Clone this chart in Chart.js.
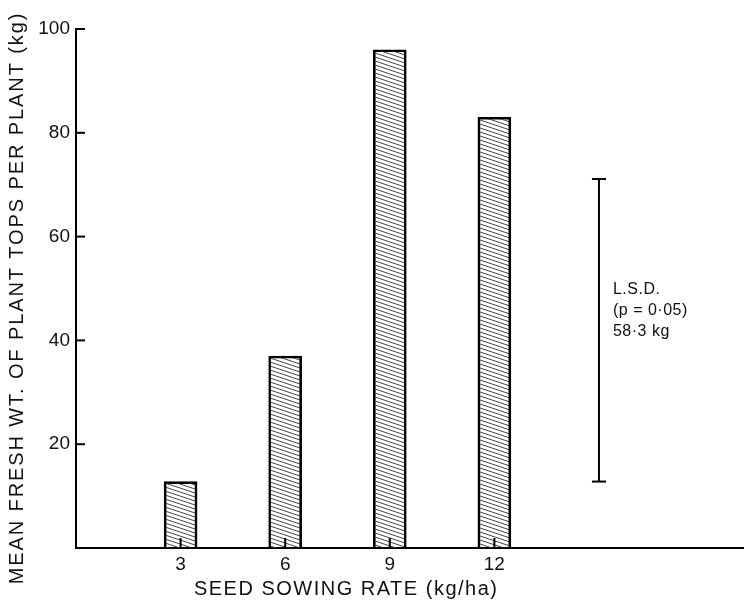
<!DOCTYPE html>
<html>
<head>
<meta charset="utf-8">
<script src="https://cdn.jsdelivr.net/npm/chart.js@4"></script>
<style>
  html, body { margin: 0; padding: 0; background: #fff; }
  #wrap { width: 744px; height: 600px; }
</style>
</head>
<body>
<div id="wrap"><canvas id="chart" width="744" height="600"></canvas></div>
<script>
// seed sowing rate (kg/ha) and mean fresh weight (kg)
const sowingRates = [3, 6, 9, 12];
const freshWeights = [12.8, 37, 96, 83];
const yTicks = [20, 40, 60, 80, 100];

// least significant difference bar
const lsdX = 15;
const lsdRange = [12.8, 71.1];
const lsdLines = ['L.S.D.', '(p = 0\u00b705)', '58\u00b73 kg'];

const xTitle = 'SEED SOWING RATE (kg/ha)';
const yTitle = 'MEAN FRESH WT. OF PLANT TOPS PER PLANT (kg)';

const FONT = '"Liberation Sans", Arial, Helvetica, sans-serif';

// diagonal hatch for the bars
function makeHatch() {
    const c = document.createElement('canvas');
    c.width = 12; c.height = 4;
    const g = c.getContext('2d');
    g.strokeStyle = '#333';
    g.lineWidth = 0.9;
    [-4, 0, 4].forEach(off => {
        g.beginPath();
        g.moveTo(0, off);
        g.lineTo(12, off + 4);
        g.stroke();
    });
    return g.createPattern(c, 'repeat');
}

// inward ticks, titles and LSD label
const extras = {
    id: 'extras',
    afterDatasetsDraw(chart) {
        const { ctx, scales: { x, y } } = chart;
        ctx.save();
        ctx.strokeStyle = '#000';
        ctx.lineWidth = 2;
        // y ticks pointing into the plot
        yTicks.forEach(v => {
            const py = y.getPixelForValue(v);
            ctx.beginPath();
            ctx.moveTo(x.left, py);
            ctx.lineTo(x.left + 9, py);
            ctx.stroke();
        });
        // x ticks pointing up inside the bars
        sowingRates.forEach(v => {
            const px = x.getPixelForValue(v);
            ctx.beginPath();
            ctx.moveTo(px, y.bottom);
            ctx.lineTo(px, y.bottom - 10);
            ctx.stroke();
        });

        // LSD text
        ctx.fillStyle = '#111';
        ctx.font = '16px ' + FONT;
        ctx.letterSpacing = '0.5px';
        ctx.textAlign = 'left';
        ctx.textBaseline = 'middle';
        const tx = x.getPixelForValue(lsdX) + 14;
        lsdLines.forEach((s, i) => {
            ctx.fillText(s, tx, y.getPixelForValue(49.8) + i * 21);
        });

        // axis titles
        ctx.font = '20px ' + FONT;
        ctx.letterSpacing = '1.5px';
        ctx.textAlign = 'center';
        ctx.fillText(xTitle, x.getPixelForValue(7.75), 589);
        ctx.translate(17, 298);
        ctx.rotate(-Math.PI / 2);
        ctx.letterSpacing = '1.9px';
        ctx.fillText(yTitle, 0, 0);
        ctx.restore();
    }
};

new Chart(document.getElementById('chart'), {
    type: 'bar',
    data: {
        datasets: [
            {
                type: 'bar',
                data: sowingRates.map((r, i) => ({ x: r, y: freshWeights[i] })),
                backgroundColor: makeHatch(),
                borderColor: '#000',
                borderWidth: { top: 2, left: 2, right: 2, bottom: 0 },
                borderSkipped: 'bottom',
                barThickness: 33
            },
            {
                type: 'line',
                data: lsdRange.map(v => ({ x: lsdX, y: v })),
                borderColor: '#000',
                borderWidth: 2,
                pointStyle: 'line',
                pointRadius: 7,
                pointBorderWidth: 2,
                pointBorderColor: '#000'
            }
        ]
    },
    options: {
        responsive: false,
        animation: false,
        layout: { autoPadding: false, padding: { top: 29, right: 0, bottom: 0, left: 0 } },
        plugins: {
            legend: { display: false },
            tooltip: { enabled: false }
        },
        scales: {
            x: {
                type: 'linear',
                offset: false,
                min: 0,
                max: 19.16,
                afterBuildTicks: s => { s.ticks = sowingRates.map(v => ({ value: v })); },
                afterFit: s => { s.height = 52; },
                grid: { display: false, drawTicks: false, offset: false },
                border: { color: '#000', width: 2 },
                ticks: {
                    color: '#111',
                    font: { size: 19, family: FONT },
                    padding: 5,
                    maxRotation: 0
                }
            },
            y: {
                min: 0,
                max: 100,
                afterBuildTicks: s => { s.ticks = yTicks.map(v => ({ value: v })); },
                afterFit: s => { s.width = 76; },
                grid: { display: false, drawTicks: false },
                border: { color: '#000', width: 2 },
                ticks: {
                    color: '#111',
                    font: { size: 19, family: FONT },
                    padding: 6
                }
            }
        }
    },
    plugins: [extras]
});
</script>
</body>
</html>
